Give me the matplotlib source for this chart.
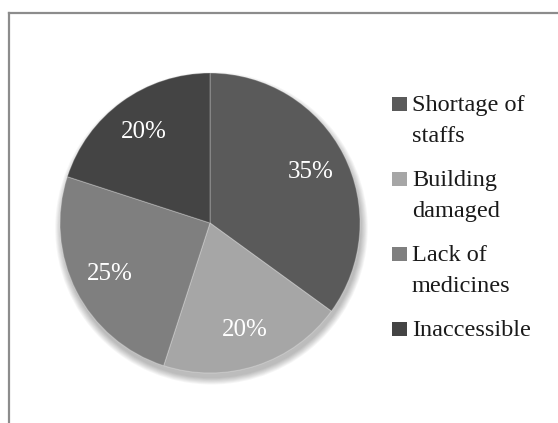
import matplotlib
matplotlib.use("Agg")
import matplotlib.pyplot as plt
from matplotlib.patches import Rectangle, Circle
from matplotlib.lines import Line2D

categories = ["Shortage of\nstaffs", "Building\ndamaged", "Lack of\nmedicines", "Inaccessible"]
values = [35, 20, 25, 20]
colors = ["#5a5a5a", "#a6a6a6", "#7f7f7f", "#444444"]

W, H = 558, 423
fig = plt.figure(figsize=(W / 100, H / 100), dpi=100)
fig.patch.set_facecolor("white")

font = ["Liberation Serif", "DejaVu Serif"]

# frame (only top and left edges visible)
fig.add_artist(Line2D([9 / W, 1.0], [1 - 13.5 / H, 1 - 13.5 / H], transform=fig.transFigure,
                      color="#8c8c8c", lw=1.6))
fig.add_artist(Line2D([9 / W, 9 / W], [1 - 13.5 / H, 0.0], transform=fig.transFigure,
                      color="#8c8c8c", lw=1.6))

cx, cy, r = 210, 223, 150
ax = fig.add_axes([(cx - r) / W, (H - cy - r) / H, 2 * r / W, 2 * r / H])
ax.axis("off")

# soft shadow
for i in range(8):
    ax.add_patch(Circle((0.01, -0.035), 1.0 + 0.006 * i, color="black",
                        alpha=0.035, lw=0, zorder=0, clip_on=False))

wedges, texts, autotexts = ax.pie(
    values, colors=colors, startangle=90, counterclock=False, radius=1.0,
    autopct=lambda p: f"{p:.0f}%", pctdistance=0.75,
    wedgeprops=dict(edgecolor=(1, 1, 1, 0.25), linewidth=0.8),
    textprops=dict(color="white", fontsize=18, family=font))
for w in wedges:
    w.set_zorder(2)
for t in autotexts:
    t.set_zorder(3)

ax.set_xlim(-1, 1)
ax.set_ylim(-1, 1)
ax.set_aspect("equal")

# legend drawn manually
sq_x, sq_w = 392, 15
txt_x = 412
base0, step, line_h = 111, 75, 31
for i, (lab, col) in enumerate(zip(categories, colors)):
    b = base0 + step * i
    fig.add_artist(Rectangle((sq_x / W, 1 - b / H), sq_w / W, 14 / H,
                             transform=fig.transFigure, color=col, lw=0))
    lines = lab.split("\n")
    for j, ln in enumerate(lines):
        fig.text(txt_x / W, 1 - (b + j * line_h) / H, ln, ha="left", va="baseline",
                 fontsize=17.5, family=font, color="#1a1a1a")

fig.savefig("out.png", dpi=100, facecolor="white")
